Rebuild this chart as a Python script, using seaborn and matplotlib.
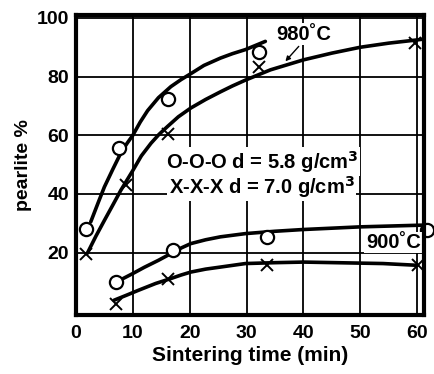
import matplotlib
matplotlib.use("Agg")
import matplotlib.pyplot as plt
import seaborn as sns
import pandas as pd
import numpy as np

sns.set_style("white")
plt.rcParams['font.family'] = ['Liberation Sans', 'DejaVu Sans']
plt.rcParams['font.weight'] = 'bold'
plt.rcParams['text.color'] = 'black'
plt.rcParams['axes.labelcolor'] = 'black'
plt.rcParams['xtick.color'] = 'black'
plt.rcParams['ytick.color'] = 'black'

# Measured points
o980_x = [1.75, 7.6, 16.1, 32.2]
o980_y = [28.2, 55.5, 72.4, 88.5]
x980_x = [1.75, 8.8, 16.1, 32.2, 59.6]
x980_y = [19.7, 43.0, 60.6, 83.4, 91.5]
o900_x = [7.0, 17.0, 33.6, 61.8]
o900_y = [10.0, 20.8, 25.4, 27.6]
x900_x = [7.0, 16.1, 33.6, 60.2]
x900_y = [2.6, 11.2, 15.7, 15.7]

# Hand-drawn fitted curves
c_o980_x = [2.6, 4.0, 5.0, 6.5, 7.9, 9.0, 10.0, 11.3, 12.6, 14.5, 16.7, 18.5, 20.2, 22.5, 25.4, 27.5, 29.8, 33.3]
c_o980_y = [30.5, 37.5, 42.4, 48.5, 54.0, 57.3, 60.0, 64.5, 68.4, 72.8, 76.6, 79.0, 81.0, 83.8, 86.3, 87.8, 89.2, 92.0]
c_x980_x = [2.0, 3.5, 5.0, 6.5, 7.9, 10.0, 11.5, 13.2, 14.6, 16.1, 18.0, 20.2, 22.8, 25.4, 27.5, 29.8, 34.2, 40.0, 45.0, 50.0, 55.0, 60.0, 61.2]
c_x980_y = [19.8, 25.6, 31.0, 36.3, 41.3, 48.0, 53.0, 57.3, 60.3, 63.0, 66.3, 69.3, 72.2, 74.8, 76.8, 78.8, 82.3, 85.7, 88.0, 90.0, 91.4, 92.5, 92.8]
c_o900_x = [7.9, 10.0, 12.0, 14.5, 16.7, 18.5, 20.2, 22.8, 25.4, 29.8, 35.0, 40.0, 50.0, 61.2]
c_o900_y = [10.8, 12.9, 15.0, 17.4, 19.7, 21.6, 23.1, 24.4, 25.4, 26.5, 27.3, 27.9, 28.8, 29.4]
c_x900_x = [6.7, 9.0, 11.0, 14.0, 16.7, 18.5, 20.2, 22.8, 25.4, 29.8, 35.0, 40.0, 54.0, 60.0]
c_x900_y = [3.8, 5.6, 7.2, 9.5, 11.2, 12.4, 13.4, 14.4, 15.1, 16.3, 16.6, 16.8, 16.3, 15.7]

fig = plt.figure(figsize=(4.34, 3.74), dpi=100)
ax = fig.add_axes([0.175, 0.158, 0.802, 0.802])

for cx, cy in [(c_o980_x, c_o980_y), (c_x980_x, c_x980_y), (c_o900_x, c_o900_y), (c_x900_x, c_x900_y)]:
    sns.lineplot(x=cx, y=cy, ax=ax, color='black', lw=2.6, sort=False, zorder=3)

for px, py in [(o980_x, o980_y), (o900_x, o900_y)]:
    ax.plot(px, py, linestyle='none', marker='o', ms=9.5, mfc='white', mec='black', mew=1.6, zorder=4, clip_on=False)
for px, py in [(x980_x, x980_y), (x900_x, x900_y)]:
    ax.plot(px, py, linestyle='none', marker='x', ms=9, mec='black', mew=1.4, zorder=4, clip_on=False)

ax.set_xlim(0, 61.2)
ax.set_ylim(-1.2, 101)
ax.set_xticks([0, 10, 20, 30, 40, 50, 60])
ax.set_yticks([20, 40, 60, 80, 100])
ax.grid(True, color='black', lw=1.3)
ax.tick_params(axis='both', labelsize=14, length=0)
ax.tick_params(axis='x', pad=7)
ax.tick_params(axis='y', pad=5)
for lab in ax.get_xticklabels() + ax.get_yticklabels():
    lab.set_fontweight('bold')
for s in ax.spines.values():
    s.set_color('black')
    s.set_linewidth(3)
    s.set_visible(True)
    s.set_zorder(6)

ax.set_xlabel('Sintering time (min)', fontsize=15, fontweight='bold', labelpad=3)
ax.set_ylabel('pearlite %', fontsize=14, fontweight='bold', labelpad=3)

bbox = dict(facecolor='white', edgecolor='none', pad=1)
ax.text(35.3, 94.5, '980˚C', fontsize=14.5, fontweight='bold', va='center', ha='left', bbox=bbox, zorder=5)
ax.annotate('', xy=(36.5, 84.5), xytext=(39.5, 91.0),
            arrowprops=dict(arrowstyle='-|>', color='black', lw=1, mutation_scale=7), zorder=5)
ax.text(60.6, 23.5, '900˚C', fontsize=14.5, fontweight='bold', va='center', ha='right', bbox=bbox, zorder=5)
ax.text(15.8, 51, 'O-O-O d = 5.8 g/cm$^3$', fontsize=14.5, fontweight='bold', va='center', ha='left', bbox=bbox, zorder=5)
ax.text(16.3, 42.5, 'X-X-X d = 7.0 g/cm$^3$', fontsize=14.5, fontweight='bold', va='center', ha='left', bbox=bbox, zorder=5)

fig.savefig('out.png', dpi=100)
